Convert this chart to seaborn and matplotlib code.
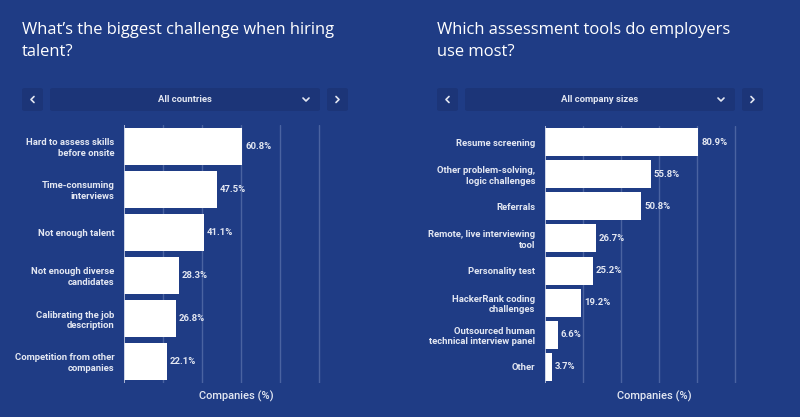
import matplotlib
matplotlib.use("Agg")
import matplotlib.pyplot as plt
from matplotlib.patches import FancyBboxPatch
from matplotlib.lines import Line2D
import pandas as pd
import seaborn as sns

# datos de las dos encuestas
retos = ["Hard to assess skills\nbefore onsite", "Time-consuming\ninterviews",
         "Not enough talent", "Not enough diverse\ncandidates",
         "Calibrating the job\ndescription", "Competition from other\ncompanies"]
retos_pct = [60.8, 47.5, 41.1, 28.3, 26.8, 22.1]

herramientas = ["Resume screening", "Other problem-solving,\nlogic challenges",
                "Referrals", "Remote, live interviewing\ntool", "Personality test",
                "HackerRank coding\nchallenges", "Outsourced human\ntechnical interview panel",
                "Other"]
herramientas_pct = [80.9, 55.8, 50.8, 26.7, 25.2, 19.2, 6.6, 3.7]

titulos = ["What\u2019s the biggest challenge when hiring\ntalent?",
           "Which assessment tools do employers\nuse most?"]
filtros = ["All countries", "All company sizes"]

FONDO = "#1f3c85"
CAJA = "#1c3578"
TEXTO = "#e3e7f2"
REJILLA = "#4a63a1"

sns.set_theme(style="white")
plt.rcParams["font.family"] = ["Roboto", "DejaVu Sans"]

W, H = 800, 417
fig = plt.figure(figsize=(W / 100, H / 100), dpi=100, facecolor=FONDO)


def fx(px):
    return px / W


def fy(py):
    return 1 - py / H


def caja(x0, x1, y0=88, y1=111):
    p = FancyBboxPatch((fx(x0), fy(y1)), fx(x1 - x0), (y1 - y0) / H,
                       boxstyle="round,pad=0,rounding_size=0.004",
                       transform=fig.transFigure, facecolor=CAJA, edgecolor="none")
    fig.patches.append(p)


def flecha(cx, cy, d):
    # d: -1 izquierda, 1 derecha, 0 abajo
    if d == 0:
        xs, ys = [cx - 3, cx, cx + 3], [cy - 1.5, cy + 1.5, cy - 1.5]
    else:
        xs, ys = [cx - 1.5 * d, cx + 1.5 * d, cx - 1.5 * d], [cy - 3, cy, cy + 3]
    fig.lines.append(Line2D([fx(x) for x in xs], [fy(y) for y in ys],
                            transform=fig.transFigure, color=TEXTO, lw=1.2))


paneles = [
    (retos, retos_pct, 22, [124, 348], 125, 0.88),
    (herramientas, herramientas_pct, 437, [545, 763], 126, 0.87),
]

for i, (cats, vals, x0, (ax0, ax1), top, ancho) in enumerate(paneles):
    # título
    fig.text(fx(x0), fy(22), titulos[i], ha="left", va="top", color="white",
             fontsize=11.9, family=["Open Sans", "DejaVu Sans"], linespacing=1.5)

    # barra de filtro
    caja(x0, x0 + 21)
    caja(x0 + 28, x0 + 298)
    caja(x0 + 305, x0 + 326)
    flecha(x0 + 10.5, 99.5, -1)
    flecha(x0 + 315.5, 99.5, 1)
    flecha(x0 + 284, 99.5, 0)
    fig.text(fx(x0 + 163), fy(99.5), filtros[i], ha="center", va="center",
             color=TEXTO, fontsize=6.8, fontweight="bold")

    # gráfico de barras
    ax = fig.add_axes([fx(ax0), fy(383), fx(ax1 - ax0), (383 - top) / H])
    ax.set_facecolor(FONDO)
    df = pd.DataFrame({"cat": cats, "pct": vals})
    sns.barplot(data=df, y="cat", x="pct", orient="h", color="white",
                saturation=1, width=ancho, edgecolor="none", ax=ax)
    ax.set_xlim(0, 115)
    ax.set_xticks([20, 40, 60, 80, 100])
    ax.grid(axis="x", color=REJILLA, lw=1)
    ax.set_axisbelow(True)
    ax.axvline(0, color="#c5cde3", lw=1.2, zorder=3)
    for s in ax.spines.values():
        s.set_visible(False)
    ax.tick_params(axis="y", length=0, pad=7)
    ax.tick_params(axis="x", length=0, pad=0)
    ax.set_xticklabels([])
    ax.set_ylabel("")
    for t in ax.get_yticklabels():
        t.set_color(TEXTO)
        t.set_fontsize(6.8)
        t.set_fontweight("bold")
        t.set_multialignment("right")
    ax.bar_label(ax.containers[0], labels=[f"{v}%" for v in vals], padding=2,
                 color=TEXTO, fontsize=6.8, fontweight="bold")
    ax.set_xlabel("Companies (%)", color=TEXTO, fontsize=8, fontweight="medium",
                  labelpad=5.5)

fig.savefig("out.png", dpi=100, facecolor=FONDO)
